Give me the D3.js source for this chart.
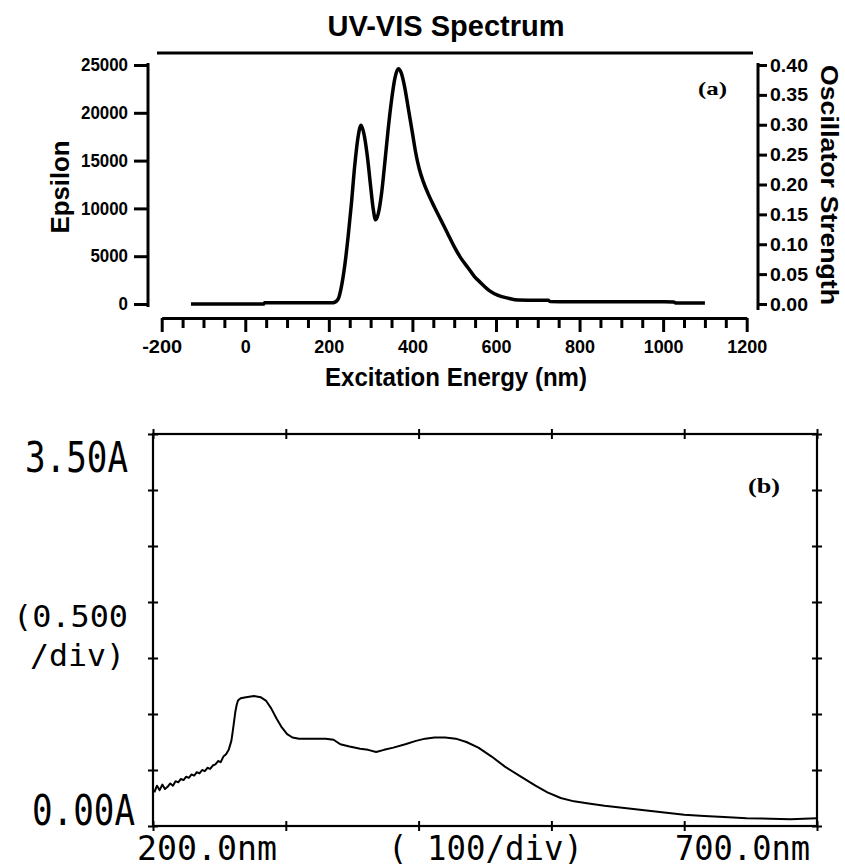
<!DOCTYPE html>
<html>
<head>
<meta charset="utf-8">
<script src="https://cdn.jsdelivr.net/npm/d3@7"></script>
<style>
  html, body { margin: 0; padding: 0; background: #fff; }
  svg { display: block; }
</style>
</head>
<body>
<script>
// ---------------- DATA ----------------
// Panel (a): calculated spectrum, wavelength (nm) vs epsilon
const topWavelength = [-130, 44, 46, 210, 222, 230, 238, 246, 254, 262, 270, 277, 284, 292, 300, 306, 312, 318, 326, 334, 342, 350, 358, 366, 373, 381, 390, 400, 408, 416, 426, 437, 452, 468, 484, 500, 516, 533, 548, 564, 584, 605, 630, 653, 725, 730, 1025, 1030, 1100];
const topEpsilon    = [0, 0, 120, 120, 500, 1800, 4000, 7000, 10500, 14500, 17500, 18700, 17800, 15500, 12300, 10000, 8800, 9400, 11500, 14800, 18300, 21300, 23600, 24600, 24200, 22800, 20500, 17900, 15800, 14200, 12800, 11600, 10200, 8800, 7400, 6000, 4800, 3800, 2900, 2200, 1400, 900, 600, 420, 380, 250, 220, 100, 100];

// Panel (b): measured spectrum, wavelength (nm) vs absorbance (A)
const botWavelength = [201, 203, 205, 207, 209, 211, 213, 215, 217, 219, 221, 223, 225, 227, 229, 231, 233, 235, 237, 239, 241, 243, 245, 247, 249, 251, 253, 255, 257, 258, 259, 260, 261, 262, 263, 264, 266, 270, 276, 281, 285, 289, 293, 297, 301, 305, 310, 320, 330, 336, 341, 348, 356, 362, 368, 374, 381, 390, 398, 405, 412, 420, 428, 436, 445, 455, 465, 477, 488, 497, 507, 517, 528, 540, 555, 570, 585, 600, 615, 630, 647, 665, 680, 700];
const botAbsorbance = [0.30, 0.36, 0.32, 0.37, 0.33, 0.35, 0.38, 0.36, 0.40, 0.39, 0.42, 0.41, 0.44, 0.43, 0.46, 0.45, 0.48, 0.47, 0.50, 0.49, 0.52, 0.51, 0.54, 0.55, 0.58, 0.57, 0.62, 0.64, 0.68, 0.72, 0.76, 0.84, 0.93, 1.02, 1.08, 1.12, 1.14, 1.15, 1.16, 1.15, 1.12, 1.05, 0.96, 0.88, 0.82, 0.79, 0.78, 0.78, 0.78, 0.77, 0.73, 0.71, 0.69, 0.68, 0.66, 0.68, 0.70, 0.73, 0.76, 0.78, 0.79, 0.79, 0.78, 0.75, 0.70, 0.62, 0.53, 0.44, 0.36, 0.30, 0.25, 0.22, 0.20, 0.18, 0.16, 0.14, 0.12, 0.10, 0.09, 0.08, 0.07, 0.065, 0.06, 0.07];

// Tick values / labels
const epsTicks      = [0, 5000, 10000, 15000, 20000, 25000];
const oscTicks      = [0, 0.05, 0.10, 0.15, 0.20, 0.25, 0.30, 0.35, 0.40];
const oscTickLabels = ["0.00", "0.05", "0.10", "0.15", "0.20", "0.25", "0.30", "0.35", "0.40"];
const xTopTicks     = [-200, 0, 200, 400, 600, 800, 1000, 1200];
const xTopMinor     = [-150, -100, -50, 50, 100, 150, 250, 300, 350, 450, 500, 550, 650, 700, 750, 850, 900, 950, 1050, 1100, 1150];
const botXTicks     = [200, 300, 400, 500, 600, 700];
const botYTicks     = [0, 0.5, 1.0, 1.5, 2.0, 2.5, 3.0, 3.5];

const titleText   = "UV-VIS Spectrum";
const xTopTitle   = "Excitation Energy (nm)";
const yLeftTitle  = "Epsilon";
const yRightTitle = "Oscillator Strength";

// ---------------- DRAW ----------------
const W = 845, H = 867;
const svg = d3.select("body").append("svg").attr("width", W).attr("height", H)
  .style("background", "#fff");

const sans = "'Liberation Sans', Arial, sans-serif";
const serif = "'Liberation Serif', 'Times New Roman', serif";
const mono = "'DejaVu Sans Mono', 'Liberation Mono', monospace";

// ===== Panel (a) =====
const xT = d3.scaleLinear().domain([-200, 1200]).range([161.7, 746.7]);
const yL = d3.scaleLinear().domain([0, 25000]).range([304, 65]);
const yR = d3.scaleLinear().domain([0, 0.40]).range([304, 65]);

// title
svg.append("text").attr("x", 446).attr("y", 36).attr("text-anchor", "middle")
  .attr("font-family", sans).attr("font-weight", "bold").attr("font-size", 29)
  .attr("textLength", 237).attr("lengthAdjust", "spacingAndGlyphs")
  .text(titleText);

// top border line
svg.append("line").attr("x1", 157).attr("x2", 753).attr("y1", 53).attr("y2", 53)
  .attr("stroke", "#000").attr("stroke-width", 3);

function styleAxis(g, sw) {
  g.selectAll("path, line").attr("stroke", "#000").attr("stroke-width", sw);
}

// left axis
const gL = svg.append("g").attr("transform", "translate(148,0)")
  .call(d3.axisLeft(yL).tickValues(epsTicks).tickSize(14).tickSizeOuter(0).tickPadding(6).tickFormat(d => String(d)));
styleAxis(gL, 3);
gL.select(".domain").attr("d", "M0,63V307");
gL.selectAll("text").attr("font-family", sans).attr("font-weight", "bold").attr("font-size", 18)
  .attr("fill", "#000")
  .each(function(d) { d3.select(this).attr("textLength", String(d).length * 9.4).attr("lengthAdjust", "spacingAndGlyphs"); });

// right axis
const gR = svg.append("g").attr("transform", "translate(758,0)")
  .call(d3.axisRight(yR).tickValues(oscTicks).tickSize(9).tickSizeOuter(0).tickPadding(3)
    .tickFormat((d, i) => oscTickLabels[i]));
styleAxis(gR, 3);
gR.select(".domain").attr("d", "M0,63V310");
gR.selectAll("text").attr("font-family", sans).attr("font-weight", "bold").attr("font-size", 19)
  .attr("fill", "#000").attr("textLength", 38).attr("lengthAdjust", "spacingAndGlyphs");

// bottom axis (major + minor)
const gB = svg.append("g").attr("transform", "translate(0,318)")
  .call(d3.axisBottom(xT).tickValues(xTopTicks).tickSize(14).tickSizeOuter(0).tickPadding(8).tickFormat(d => (d < 0 ? "-" : "") + Math.abs(d)));
styleAxis(gB, 3);
gB.selectAll("text").attr("font-family", sans).attr("font-weight", "bold").attr("font-size", 19)
  .attr("fill", "#000")
  .each(function(d) { const s = String(d); d3.select(this).attr("textLength", s.length * 10).attr("lengthAdjust", "spacingAndGlyphs"); });
const gBm = svg.append("g").attr("transform", "translate(0,318)")
  .call(d3.axisBottom(xT).tickValues(xTopMinor).tickSize(10).tickSizeOuter(0).tickFormat(""));
styleAxis(gBm, 3);
gBm.select(".domain").remove();

// axis titles
svg.append("text").attr("x", 456).attr("y", 386).attr("text-anchor", "middle")
  .attr("font-family", sans).attr("font-weight", "bold").attr("font-size", 26)
  .attr("textLength", 262).attr("lengthAdjust", "spacingAndGlyphs").text(xTopTitle);
svg.append("text").attr("transform", "translate(69,187) rotate(-90)").attr("text-anchor", "middle")
  .attr("font-family", sans).attr("font-weight", "bold").attr("font-size", 25)
  .attr("textLength", 93).attr("lengthAdjust", "spacingAndGlyphs").text(yLeftTitle);
svg.append("text").attr("transform", "translate(821,185) rotate(90)").attr("text-anchor", "middle")
  .attr("font-family", sans).attr("font-weight", "bold").attr("font-size", 24)
  .attr("textLength", 240).attr("lengthAdjust", "spacingAndGlyphs").text(yRightTitle);

// (a)
svg.append("text").attr("x", 698).attr("y", 95)
  .attr("font-family", serif).attr("font-weight", "bold").attr("font-size", 19)
  .attr("textLength", 29).attr("lengthAdjust", "spacingAndGlyphs").text("(a)");

// curve
const topPts = topWavelength.map((w, i) => [w, topEpsilon[i]]);
svg.append("path").datum(topPts)
  .attr("fill", "none").attr("stroke", "#000").attr("stroke-width", 3.5)
  .attr("stroke-linejoin", "round")
  .attr("d", d3.line().x(d => xT(d[0])).y(d => yL(d[1])).curve(d3.curveMonotoneX));

// ===== Panel (b) =====
const xB = d3.scaleLinear().domain([200, 700]).range([153, 817]);
const yB = d3.scaleLinear().domain([0, 3.5]).range([826, 434]);

// frame
svg.append("rect").attr("x", xB(200)).attr("y", yB(3.5))
  .attr("width", xB(700) - xB(200)).attr("height", yB(0) - yB(3.5))
  .attr("fill", "none").attr("stroke", "#000").attr("stroke-width", 2.2);

// crossing ticks on each side
function crossTicks(axisFn, scale, vals, transform) {
  [axisFn[0], axisFn[1]].forEach(fn => {
    const g = svg.append("g").attr("transform", transform)
      .call(fn(scale).tickValues(vals).tickSize(5).tickSizeOuter(0).tickFormat(""));
    g.select(".domain").remove();
    g.selectAll("line").attr("stroke", "#000").attr("stroke-width", 2);
  });
}
crossTicks([d3.axisLeft, d3.axisRight], yB, botYTicks, `translate(${xB(200)},0)`);
crossTicks([d3.axisLeft, d3.axisRight], yB, botYTicks, `translate(${xB(700)},0)`);
crossTicks([d3.axisTop, d3.axisBottom], xB, botXTicks, `translate(0,${yB(3.5)})`);
crossTicks([d3.axisTop, d3.axisBottom], xB, botXTicks, `translate(0,${yB(0)})`);

// labels (plotter style)
function monoText(x, y, s, size, len, anchor) {
  svg.append("text").attr("x", x).attr("y", y).attr("text-anchor", anchor || "start")
    .attr("font-family", mono).attr("font-size", size).attr("fill", "#000")
    .attr("textLength", len).attr("lengthAdjust", "spacingAndGlyphs")
    .style("white-space", "pre").text(s);
}
monoText(xB(200) - 25, yB(3.5) + 38, "3.50A", 42, 103, "end");
monoText(xB(200) - 140, yB(1.75) - 3, "(0.500", 30, 115, "start");
monoText(xB(200) - 123, yB(1.75) + 36, "/div)", 30, 95, "start");
monoText(xB(200) - 18, yB(0) - 1, "0.00A", 42, 103, "end");
monoText(xB(200) - 16, 860, "200.0nm", 34, 140, "start");
monoText(388, 860, "( 100/div)", 34, 195, "start");
monoText(xB(700) - 7, 860, "700.0nm", 34, 135, "end");

// (b)
svg.append("text").attr("x", 748).attr("y", 493)
  .attr("font-family", serif).attr("font-weight", "bold").attr("font-size", 21)
  .attr("textLength", 32).attr("lengthAdjust", "spacingAndGlyphs").text("(b)");

// curve
const botPts = botWavelength.map((w, i) => [w, botAbsorbance[i]]);
svg.append("path").datum(botPts)
  .attr("fill", "none").attr("stroke", "#000").attr("stroke-width", 2)
  .attr("stroke-linejoin", "round")
  .attr("d", d3.line().x(d => xB(d[0])).y(d => yB(d[1])));
</script>
</body>
</html>
